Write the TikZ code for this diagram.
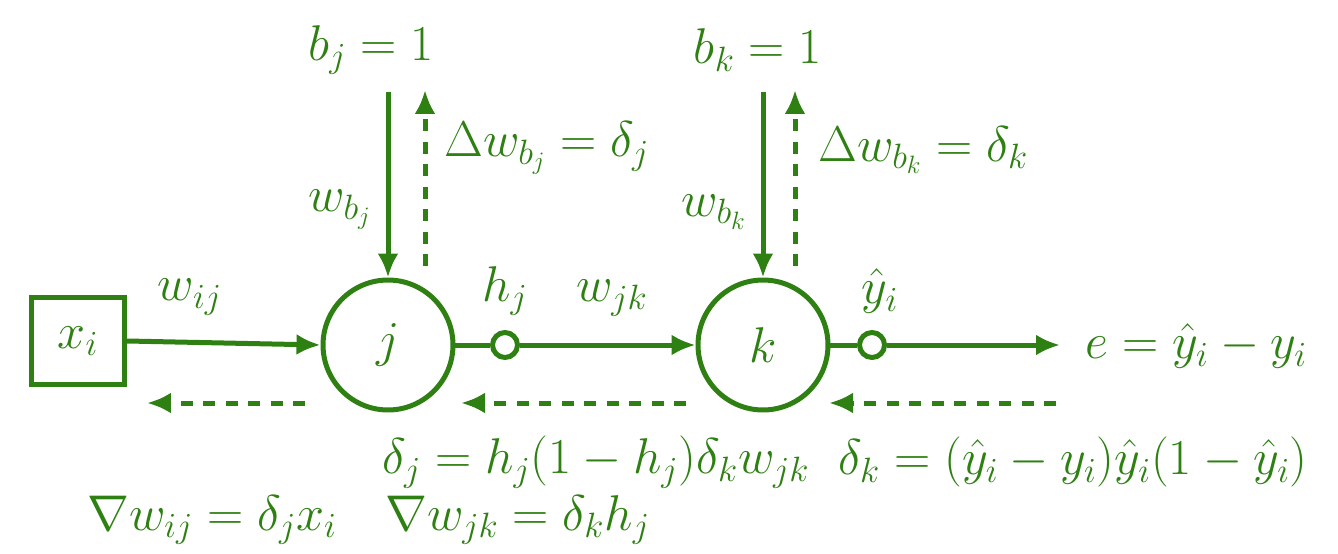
\RequirePackage{fix-cm}
\documentclass[tikz,border=0pt]{standalone}
\usepackage{amsmath}
\usetikzlibrary{arrows.meta}
\definecolor{nngreen}{RGB}{46,128,18}
\begin{document}
\begin{tikzpicture}[x=0.02cm,y=-0.02cm,
  every node/.style={text=nngreen,font=\fontsize{28.6}{34}\selectfont},
  conn/.style={draw=nngreen,line width=0.1cm,-{Latex[length=0.48cm,width=0.42cm]}},
  plainconn/.style={draw=nngreen,line width=0.1cm},
  back/.style={conn,dash pattern=on 0.24cm off 0.21cm},
  neuron/.style={circle,draw=nngreen,line width=0.1cm,minimum size=2.6cm,inner sep=0pt},
  outdot/.style={circle,draw=nngreen,line width=0.1cm,minimum size=0.5cm,inner sep=0pt,fill=white},
  inbox/.style={rectangle,draw=nngreen,line width=0.1cm,minimum width=1.86cm,minimum height=1.74cm,inner sep=0pt},
  lbl/.style={inner sep=0pt}]
\useasboundingbox (0,0) rectangle (1338,554);

% nodes
\node[inbox] (x) at (78,341) {$x_i$};
\node[neuron] (j) at (388,345) {$j$};
\node[neuron] (k) at (763,345) {$k$};
\node[outdot] (h) at (505,345) {};
\node[outdot] (y) at (872,345) {};
\node[lbl,anchor=west] (e) at (1085,346) {$e=\hat{y}_i-y_i$};
\coordinate (eend) at (1060,345);

% forward
\draw[conn] (x.east) -- (j.west);
\draw[plainconn] (j.east) -- (h.west);
\draw[conn] (h.east) -- (k.west);
\draw[plainconn] (k.east) -- (y.west);
\draw[conn] (y.east) -- (eend);

% bias
\node[lbl] (bj) at (371,50) {$b_j=1$};
\node[lbl] (bk) at (758,50) {$b_k=1$};
\coordinate (bjs) at (388,92);
\coordinate (bks) at (763,92);
\draw[conn] (bjs) -- (j.north);
\draw[conn] (bks) -- (k.north);
\coordinate (dj1) at (425,266);
\coordinate (dj2) at (425,90);
\coordinate (dk1) at (795,266);
\coordinate (dk2) at (795,90);
\draw[back] (dj1) -- (dj2);
\draw[back] (dk1) -- (dk2);

% backward
\coordinate (b1s) at (305,403);
\coordinate (b1e) at (147,403);
\coordinate (b2s) at (686,403);
\coordinate (b2e) at (461,403);
\coordinate (b3s) at (1056,403);
\coordinate (b3e) at (829,403);
\draw[back] (b1s) -- (b1e);
\draw[back] (b2s) -- (b2e);
\draw[back] (b3s) -- (b3e);

% labels
\node[lbl] (lwij) at (190,297) {$w_{ij}$};
\node[lbl] (lhj) at (505,291) {$h_j$};
\node[lbl] (lwjk) at (612,298) {$w_{jk}$};
\node[lbl] (lyh) at (880,291) {$\hat{y}_i$};
\node[lbl] (lwbj) at (340,210) {$w_{b_j}$};
\node[lbl] (lwbk) at (714,212) {$w_{b_k}$};
\node[lbl,anchor=west] (ldbj) at (444,148) {$\Delta w_{b_j}=\delta_j$};
\node[lbl,anchor=west] (ldbk) at (818,150) {$\Delta w_{b_k}=\delta_k$};
\node[lbl,anchor=west] (ldj) at (382,462) {$\delta_j=h_j(1-h_j)\delta_k w_{jk}$};
\node[lbl,anchor=west] (ldk) at (838,462) {$\delta_k=(\hat{y}_i-y_i)\hat{y}_i(1-\hat{y}_i)$};
\node[lbl,anchor=west] (lgij) at (87,520) {$\nabla w_{ij}=\delta_j x_i$};
\node[lbl,anchor=west] (lgjk) at (385,520) {$\nabla w_{jk}=\delta_k h_j$};
\end{tikzpicture}
\end{document}
